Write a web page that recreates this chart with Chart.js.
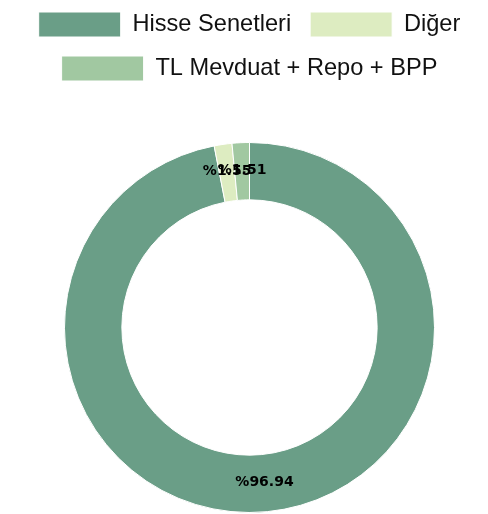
<!DOCTYPE html>
<html>
<head>
<meta charset="utf-8">
<script src="https://cdn.jsdelivr.net/npm/chart.js@4.4.1/dist/chart.umd.min.js"></script>
<style>
  html, body { margin: 0; padding: 0; background: #fff; }
  #chart-container { width: 488px; height: 514px; }
</style>
</head>
<body>
<div id="chart-container"><canvas id="chart"></canvas></div>
<script>
const labels = ['Hisse Senetleri', 'Diğer', 'TL Mevduat + Repo + BPP'];
const values = [96.94, 1.55, 1.51];
const colors = ['#6a9e87', '#ddecc1', '#a1c8a1'];

// draws "%value" in the middle of each slice
const sliceLabels = {
    id: 'sliceLabels',
    afterDatasetsDraw(chart) {
        const ctx = chart.ctx;
        const meta = chart.getDatasetMeta(0);
        ctx.save();
        ctx.font = 'bold 14px "DejaVu Sans"';
        ctx.fillStyle = '#000';
        ctx.textAlign = 'center';
        ctx.textBaseline = 'middle';
        meta.data.forEach((arc, i) => {
            const pos = arc.tooltipPosition();
            ctx.fillText('%' + values[i].toFixed(2), pos.x, pos.y - 1);
        });
        ctx.restore();
    }
};

// extra room between the legend and the doughnut
const legendGap = {
    id: 'legendGap',
    beforeInit(chart) {
        const fit = chart.legend.fit;
        chart.legend.fit = function () {
            fit.bind(chart.legend)();
            this.height += 51;
        };
    }
};

function displayChart() {
    const ctx = document.getElementById('chart').getContext('2d');
    new Chart(ctx, {
        type: 'doughnut',
        data: {
            labels: labels,
            datasets: [{
                data: values,
                backgroundColor: colors,
                borderColor: '#ffffff',
                borderWidth: 1
            }]
        },
        options: {
            responsive: true,
            maintainAspectRatio: false,
            animation: false,
            cutout: '69%',
            layout: {
                padding: { left: 11, top: -7, bottom: 1 }
            },
            plugins: {
                legend: {
                    position: 'top',
                    labels: {
                        boxWidth: 82,
                        boxHeight: 25,
                        padding: 19,
                        color: '#111',
                        font: { family: '"Liberation Sans", Arial', size: 23.6 }
                    }
                },
                tooltip: { enabled: false }
            }
        },
        plugins: [sliceLabels, legendGap]
    });
}

displayChart();
</script>
</body>
</html>
